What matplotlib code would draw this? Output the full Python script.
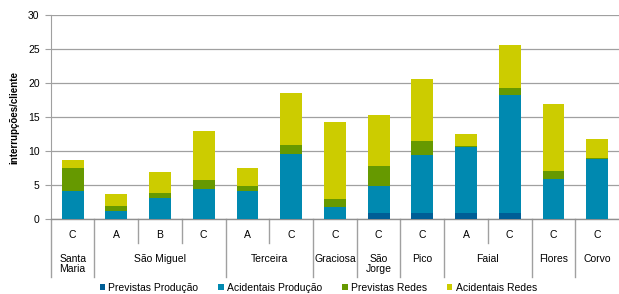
import matplotlib
matplotlib.use("Agg")
import matplotlib.pyplot as plt
from matplotlib.transforms import blended_transform_factory
import numpy as np

plt.rcParams['font.family'] = ['Liberation Sans', 'DejaVu Sans']

categories = ["C", "A", "B", "C", "A", "C", "C", "C", "C", "A", "C", "C", "C"]
islands = ["Santa\nMaria", "São Miguel", "Terceira", "Graciosa", "São\nJorge", "Pico", "Faial", "Flores", "Corvo"]
island_spans = [(0, 0), (1, 3), (4, 5), (6, 6), (7, 7), (8, 8), (9, 10), (11, 11), (12, 12)]

previstas_producao = [0, 0, 0, 0, 0, 0, 0, 1.0, 1.0, 1.0, 1.0, 0, 0]
acidentais_producao = [4.2, 1.26, 3.17, 4.49, 4.2, 9.57, 1.8, 3.93, 8.38, 9.55, 17.27, 5.9, 8.89]
previstas_redes = [3.37, 0.64, 0.73, 1.31, 0.73, 1.37, 1.18, 2.93, 2.12, 0.25, 1.03, 1.23, 0.1]
acidentais_redes = [1.13, 1.85, 3.0, 7.1, 2.59, 7.53, 11.22, 7.44, 9.0, 1.66, 6.2, 9.77, 2.8]

series = [
    ("Previstas Produção", previstas_producao, "#005E96"),
    ("Acidentais Produção", acidentais_producao, "#0089B0"),
    ("Previstas Redes", previstas_redes, "#669900"),
    ("Acidentais Redes", acidentais_redes, "#CCCC00"),
]

fig = plt.figure(figsize=(6.19, 2.94), dpi=100)
ax = fig.add_axes([0.082, 0.254, 0.918, 0.696])

x = np.arange(len(categories))
bottom = np.zeros(len(categories))
handles = []
for name, vals, col in series:
    v = np.array(vals, dtype=float)
    b = ax.bar(x, v, 0.5, bottom=bottom, color=col, label=name, zorder=3,
               edgecolor='none')
    handles.append(b)
    bottom += v

ax.set_xlim(-0.5, len(categories) - 0.5)
ax.set_ylim(0, 30)
ax.set_yticks(range(0, 31, 5))
ax.yaxis.grid(True, color='#A0A0A0', linewidth=0.9, zorder=0)
ax.set_axisbelow(True)
for s in ['top', 'right']:
    ax.spines[s].set_visible(False)
ax.spines['left'].set_color('#A0A0A0')
ax.spines['bottom'].set_color('#909090')
ax.spines['bottom'].set_linewidth(1.0)
ax.tick_params(axis='y', length=4, color='#A0A0A0', labelsize=7.5, pad=4)
ax.set_xticks([])
ax.set_ylabel("interrupções/cliente", fontsize=7, fontweight='bold', labelpad=6)

trans = blended_transform_factory(ax.transData, fig.transFigure)
y_axis_fig = 0.254
y_short = (294 - 242.5) / 294
y_long = (294 - 276.5) / 294
long_b = [-0.5] + [e + 0.5 for (_, e) in island_spans[:-1]]
short_b = [1.5, 2.5, 4.5, 9.5]
for bx in long_b:
    ax.plot([bx, bx], [y_axis_fig, y_long], transform=trans, color='#A0A0A0',
            linewidth=1.0, clip_on=False)
for bx in short_b:
    ax.plot([bx, bx], [y_axis_fig, y_short], transform=trans, color='#A0A0A0',
            linewidth=1.0, clip_on=False)

y_cat = (294 - 235.5) / 294
for xi, c in zip(x, categories):
    ax.text(xi, y_cat, c, transform=trans, ha='center', va='center', fontsize=7.5)

y_isl1 = (294 - 258.7) / 294
y_isl2 = (294 - 269.5) / 294
for name, (s, e) in zip(islands, island_spans):
    lines = name.split('\n')
    for k, ln in enumerate(lines):
        ax.text((s + e) / 2, y_isl1 if k == 0 else y_isl2, ln, transform=trans,
                ha='center', va='center', fontsize=7.5)

leg = fig.legend(handles=handles, loc='center', bbox_to_anchor=(0.514, (294 - 288) / 294),
                 ncol=4, frameon=False, fontsize=7.5, handlelength=0.55, handleheight=0.55,
                 handletextpad=0.3, columnspacing=1.9, borderpad=0)

fig.savefig("out.png", dpi=100)
